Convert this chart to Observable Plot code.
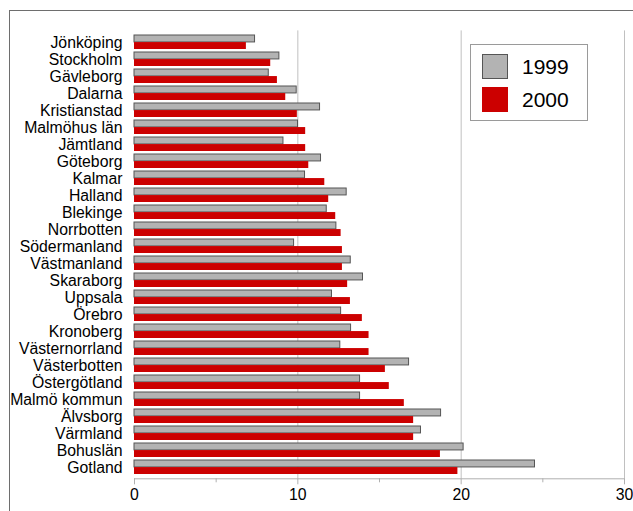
<!DOCTYPE html>
<html>
<head>
<meta charset="utf-8">
<script src="https://cdn.jsdelivr.net/npm/d3@7"></script>
<script src="https://cdn.jsdelivr.net/npm/@observablehq/plot@0.6"></script>
<style>
  html, body { margin: 0; padding: 0; background: #fff; overflow: hidden; }
  #wrap { position: relative; width: 633px; height: 511px; font-family: "Liberation Sans", Arial, sans-serif; }
  #wrap svg { position: absolute; left: 0; top: 0; }
  #border { position: absolute; left: 9px; top: 10px; width: 700px; height: 600px; border: 1px solid #6e6e6e; pointer-events: none; }
  #legend { position: absolute; left: 470px; top: 44px; width: 116px; height: 75px; border: 1px solid #9a9a9a; background: #fff; }
  .row { position: absolute; left: 11px; display: flex; align-items: center; }
  .sw { width: 26px; height: 25px; box-sizing: border-box; }
  .lab { margin-left: 14px; font-size: 21px; color: #000; }
</style>
</head>
<body>
<div id="wrap"><div id="border"></div></div>
<script>
// Regions, listed top to bottom
const categories = [
  "Jönköping", "Stockholm", "Gävleborg", "Dalarna", "Kristianstad", "Malmöhus län",
  "Jämtland", "Göteborg", "Kalmar", "Halland", "Blekinge", "Norrbotten",
  "Södermanland", "Västmanland", "Skaraborg", "Uppsala", "Örebro", "Kronoberg",
  "Västernorrland", "Västerbotten", "Östergötland", "Malmö kommun", "Älvsborg",
  "Värmland", "Bohuslän", "Gotland"
];
const values1999 = [
  7.38, 8.87, 8.22, 9.93, 11.36, 10.01,
  9.12, 11.42, 10.44, 12.99, 11.77, 12.36,
  9.77, 13.24, 13.99, 12.09, 12.65, 13.26,
  12.60, 16.81, 13.81, 13.81, 18.77,
  17.54, 20.15, 24.52
];
const values2000 = [
  6.85, 8.34, 8.75, 9.26, 9.97, 10.48,
  10.48, 10.67, 11.65, 11.89, 12.32, 12.65,
  12.73, 12.73, 13.05, 13.22, 13.95, 14.36,
  14.36, 15.36, 15.60, 16.52, 17.09,
  17.09, 18.73, 19.80
];
const years = ["1999", "2000"];
const fills = ["#b3b3b3", "#cc0000"];
const majorTicks = [0, 10, 20, 30];
const minorTicks = [5, 15, 25];
const gridTicks = [10, 20, 30];

const rows = categories.map((region, i) => ({region, v1999: values1999[i], v2000: values2000[i]}));

// Layout of the plot area
const W = 633, H = 511;
const plotTop = 30.4, plotBottom = 478.3;
const padIn = 0.18, padOut = 0.09;
const step = (plotBottom - plotTop) / (categories.length - padIn + 2 * padOut);
const half = step * (1 - padIn) / 2;
const font = "\"Liberation Sans\", Arial, sans-serif";

const chart = Plot.plot({
  width: W,
  height: H,
  marginLeft: 134,
  marginRight: 9,
  marginTop: plotTop,
  marginBottom: H - plotBottom,
  style: {fontFamily: font, fontSize: "15.8px", color: "#000", background: "transparent"},
  x: {domain: [0, 30], label: null},
  y: {type: "band", domain: categories, paddingInner: padIn, paddingOuter: padOut, align: 0.5, label: null},
  marks: [
    Plot.gridX(gridTicks, {stroke: "#c0c0c0", strokeOpacity: 1, strokeWidth: 1}),
    Plot.barX(rows, {y: "region", x: "v1999", fill: fills[0], stroke: "#555", strokeWidth: 1, insetBottom: half}),
    Plot.barX(rows, {y: "region", x: "v2000", fill: fills[1], insetTop: half}),
    Plot.frame({anchor: "bottom", stroke: "#b0b0b0"}),
    Plot.axisX({ticks: majorTicks, tickSize: 6, tickPadding: 4, stroke: "#b0b0b0", fontSize: 15.8, label: null, tickFormat: d => String(d)}),
    Plot.axisX({ticks: minorTicks, tickSize: 4, text: null, stroke: "#b0b0b0", label: null}),
    Plot.axisY({tickSize: 0, tickPadding: 12, fontSize: 15.8, label: null})
  ]
});

const wrap = document.getElementById("wrap");
wrap.insertBefore(chart, wrap.firstChild);

// Legend box inside the plot area
const legend = document.createElement("div");
legend.id = "legend";
years.forEach((yr, i) => {
  const row = document.createElement("div");
  row.className = "row";
  row.style.top = (i === 0 ? 9 : 42) + "px";
  const sw = document.createElement("div");
  sw.className = "sw";
  sw.style.background = fills[i];
  if (i === 0) sw.style.border = "1px solid #555";
  const lab = document.createElement("span");
  lab.className = "lab";
  lab.textContent = yr;
  row.appendChild(sw);
  row.appendChild(lab);
  legend.appendChild(row);
});
wrap.appendChild(legend);
</script>
</body>
</html>
